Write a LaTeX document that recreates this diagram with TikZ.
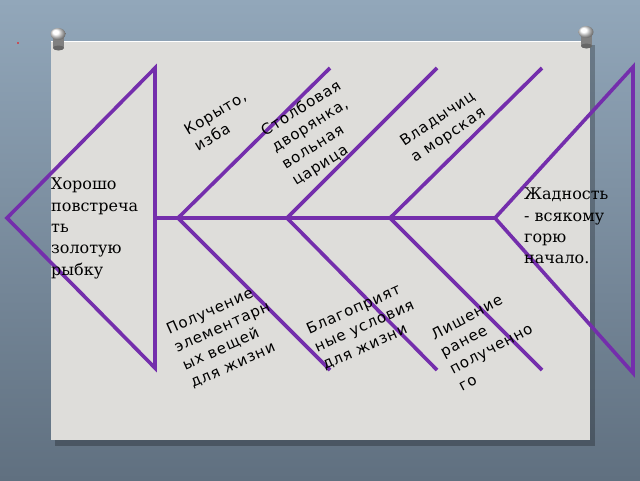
\documentclass[tikz,border=0pt]{standalone}
\usepackage{fontspec}
\setmainfont{DejaVu Serif}
\newfontfamily\bonefont[LetterSpace=6]{DejaVu Sans}
\usetikzlibrary{positioning}
\definecolor{fishpurple}{RGB}{116,46,172}
\definecolor{cardgray}{RGB}{222,221,218}
\definecolor{walltop}{RGB}{146,167,186}
\definecolor{wallbottom}{RGB}{96,112,128}
\tikzstyle{bone} = [line width=3.6pt,draw=fishpurple,line join=miter]
\tikzstyle{cause} = [font=\bonefont\fontsize{15}{19.5}\selectfont,align=left,inner sep=0pt,anchor=base west]
\tikzstyle{tale} = [font=\fontsize{16}{21.3}\selectfont,align=left,inner sep=0pt]

\begin{document}
\begin{tikzpicture}[x=1pt,y=-1pt]
        \useasboundingbox (0,0) rectangle (640,480);
        \shade[top color=walltop,bottom color=wallbottom] (0,0) rectangle (640,480);
        \fill[red] (18,43) circle (0.9);
        % card with pins
        \fill[black,opacity=0.25] (55,45) rectangle (595,446);
        \fill[cardgray] (51,41) rectangle (590,440);
        \draw[white,line width=1.5pt] (51,41.7) -- (590,41.7);
        \foreach \px/\py in {58/36,586/34} {
            \fill[black!50] (\px-5,\py) rectangle (\px+6,\py+12);
            \fill[black!60] (\px+0.5,\py+12) ellipse (5.5 and 2.5);
            \shade[ball color=white] (\px,\py-2) ellipse (7.5 and 6);
        }

        \coordinate (snout) at (7,218);
        \coordinate (headtop) at (155,68);
        \coordinate (headbot) at (155,368);
        \coordinate (neck) at (155,218);
        \coordinate (tailroot) at (495,218);
        \coordinate (tailtop) at (633,67);
        \coordinate (tailbot) at (633,373);
        \coordinate (j1) at (178,218);
        \coordinate (j2) at (287,218);
        \coordinate (j3) at (390,218);
        \coordinate (u1) at (330,68);
        \coordinate (u2) at (437,68);
        \coordinate (u3) at (542,68);
        \coordinate (d1) at (330,370);
        \coordinate (d2) at (437,370);
        \coordinate (d3) at (542,370);

        \draw[bone] (snout) -- (headtop) -- (headbot) -- cycle;
        \draw[bone] (tailroot) -- (tailtop) -- (tailbot) -- cycle;
        \draw[bone] (neck) -- (tailroot);
        \foreach \i in {1,2,3} {
            \draw[bone] (u\i) -- (j\i) -- (d\i);
        }

        \node[tale,anchor=north west] (wish) at (51,178) {Хорошо\\повстреча\\ть\\золотую\\рыбку};
        \node[tale,anchor=north west] (moral) at (524,188) {Жадность\\- всякому\\горю\\начало.};

        % base = last line
        \node[cause,rotate=31] (trough) at (198,152) {Корыто,\\изба};
        \node[cause,rotate=32] (noble) at (296,186) {Столбовая\\дворянка,\\вольная\\царица};
        \node[cause,rotate=34] (queen) at (415,163) {Владычиц\\а морская};
        \node[cause,rotate=24] (basics) at (193,388) {Получение\\элементарн\\ых вещей\\для жизни};
        \node[cause,rotate=24] (comfort) at (325,370) {Благоприят\\ные условия\\для жизни};
        \node[cause,rotate=28] (loss) at (462,392) {Лишение\\ранее\\полученно\\го};

    \end{tikzpicture}
\end{document}
